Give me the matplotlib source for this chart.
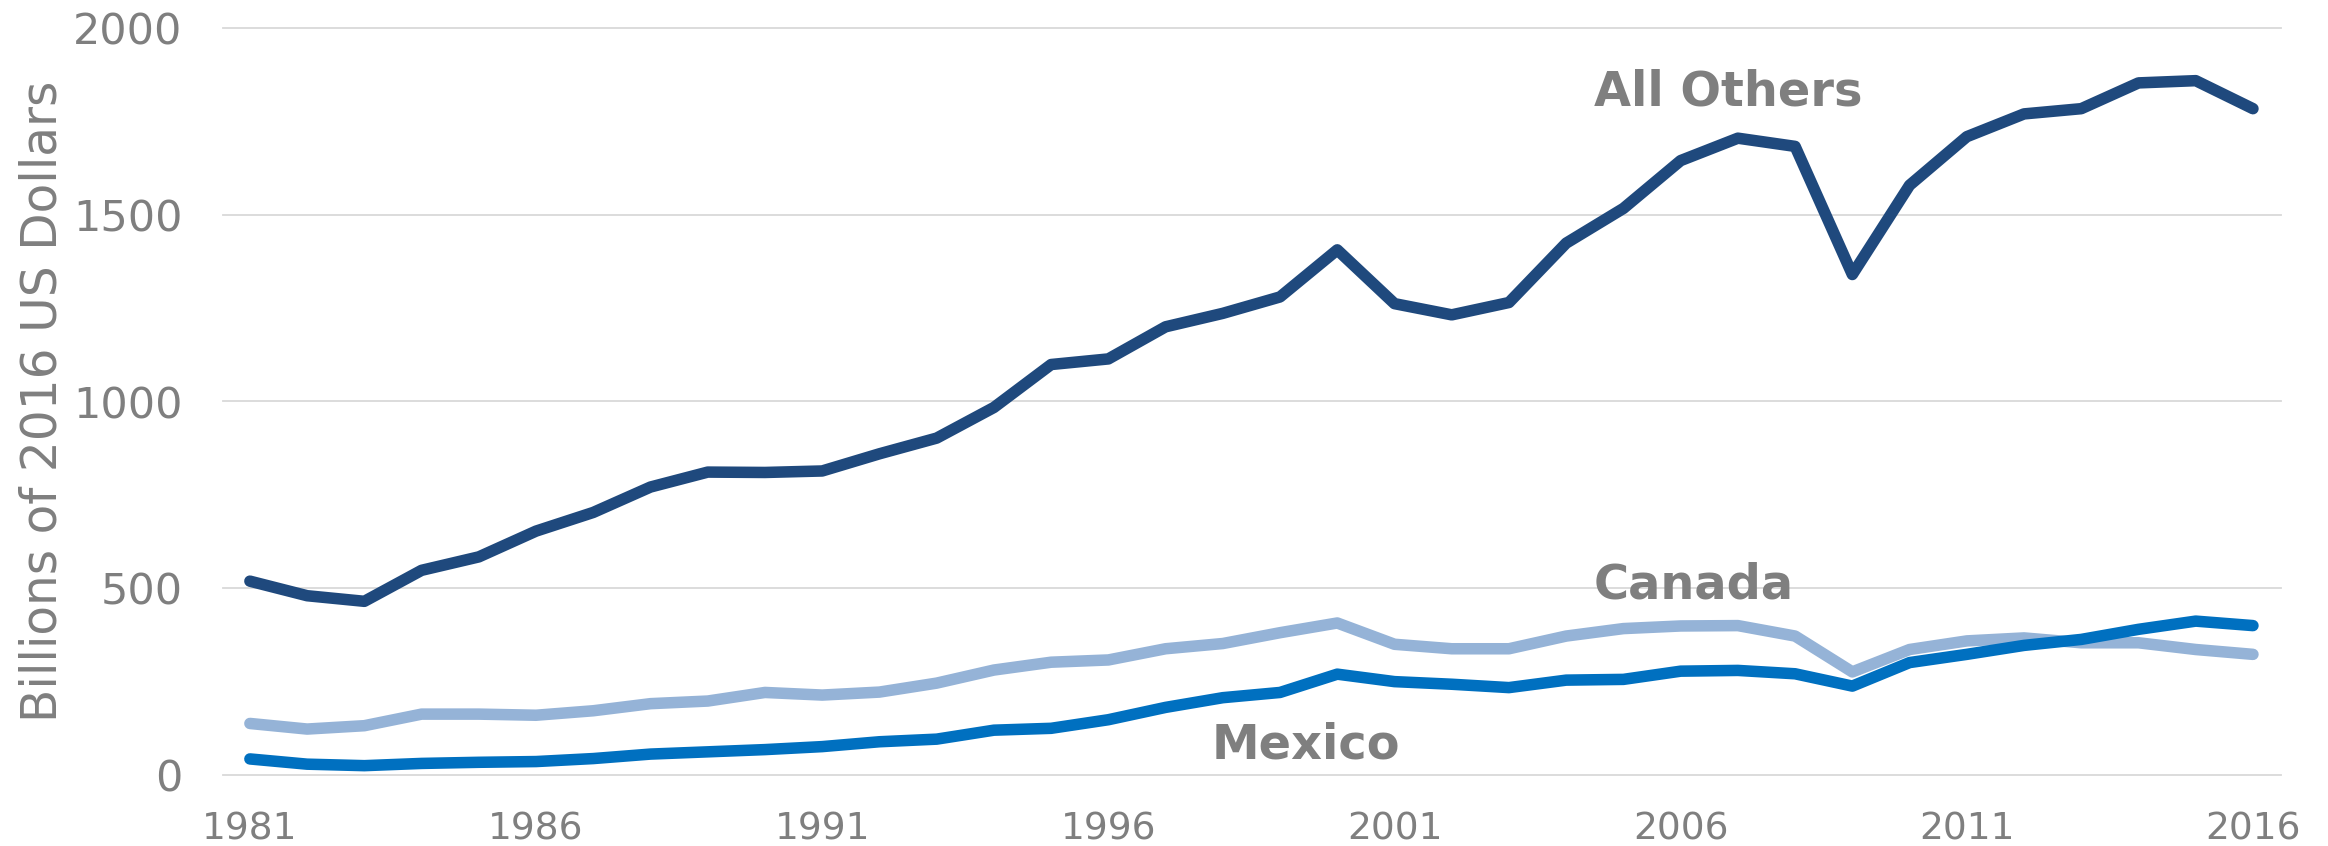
import matplotlib.pyplot as plt
import numpy as np

years = np.arange(1981, 2017)

all_others = [519, 480, 465, 548, 584, 653, 703, 771, 811, 810,
              814, 860, 902, 984, 1099, 1114, 1200, 1236, 1280, 1406,
              1262, 1232, 1265, 1424, 1517, 1645, 1705, 1683, 1340, 1579,
              1709, 1770, 1784, 1853, 1859, 1784]
canada = [138, 123, 132, 163, 163, 160, 172, 191, 198, 221,
          214, 222, 246, 281, 302, 308, 338, 352, 381, 407,
          350, 338, 338, 372, 392, 399, 400, 372, 276, 336,
          359, 367, 354, 354, 336, 323]
mexico = [43, 29, 25, 31, 34, 36, 44, 56, 62, 68,
          76, 89, 96, 120, 125, 148, 181, 207, 221, 270,
          250, 243, 234, 254, 256, 278, 280, 271, 238, 301,
          323, 347, 363, 390, 412, 400]

tick_years = [1981, 1986, 1991, 1996, 2001, 2006, 2011, 2016]
y_ticks = [0, 500, 1000, 1500, 2000]

gray = '#7F7F7F'

fig = plt.figure(figsize=(23.28, 8.46), dpi=100)
ax = fig.add_axes([223 / 2328, 1 - 775 / 846, 2058 / 2328, 747 / 846])

lw = 8.3
ax.plot(years, canada, color='#95B3D7', lw=lw, solid_capstyle='round', solid_joinstyle='round')
ax.plot(years, mexico, color='#0070C0', lw=lw, solid_capstyle='round', solid_joinstyle='round')
ax.plot(years, all_others, color='#1F497D', lw=lw, solid_capstyle='round', solid_joinstyle='round')

ax.set_xlim(1980.53, 2016.49)
ax.set_ylim(0, 2000)
ax.set_xticks(tick_years)
ax.set_yticks(y_ticks)
ax.tick_params(axis='both', length=0, labelcolor=gray)
ax.tick_params(axis='x', pad=26, labelsize=27)
ax.tick_params(axis='y', pad=29, labelsize=31)

ax.grid(axis='y', color='#D9D9D9', lw=1.3)
ax.set_axisbelow(True)
for gl in ax.get_ygridlines():
    gl.set_clip_on(False)
for s in ax.spines.values():
    s.set_visible(False)

ax.set_ylabel('Billions of 2016 US Dollars', fontsize=35, color=gray)
ax.yaxis.set_label_coords((66 - 223) / 2058, 0.5)

ax.text(2004.48, 1792, 'All Others', fontsize=34.5, fontweight='bold', color=gray, ha='left', va='baseline')
ax.text(2004.48, 473, 'Canada', fontsize=34.5, fontweight='bold', color=gray, ha='left', va='baseline')
ax.text(1997.81, 45, 'Mexico', fontsize=34.5, fontweight='bold', color=gray, ha='left', va='baseline')

fig.savefig('out.png', dpi=100)
